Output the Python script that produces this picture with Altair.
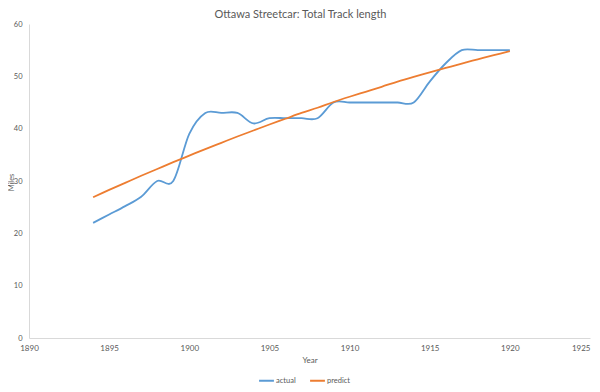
import altair as alt
import pandas as pd

years = list(range(1894, 1921))
actual = [22, 23.6, 25.2, 27, 30, 30, 39, 43, 43, 43, 41, 42, 42, 42, 42,
          45, 45, 45, 45, 45, 45, 49, 52.5, 55, 55, 55, 55]
predict = [26.9, 28.3, 29.65, 31.0, 32.3, 33.6, 34.85, 36.1, 37.3, 38.5, 39.65,
           40.8, 41.9, 43.0, 44.0, 45.1, 46.1, 47.05, 48.0, 49.0, 49.9, 50.75,
           51.6, 52.45, 53.25, 54.05, 54.8]
series_names = ["actual", "predict"]
series_colors = ["#5B9BD5", "#ED7D31"]
x_ticks = [1890, 1895, 1900, 1905, 1910, 1915, 1920, 1925]
y_ticks = [0, 10, 20, 30, 40, 50, 60]

df = pd.DataFrame({
    "Year": years * 2,
    "Miles": actual + predict,
    "series": [series_names[0]] * len(years) + [series_names[1]] * len(years),
})

FONT = "Lato"
GRAY = "#595959"

chart = alt.Chart(df).mark_line(interpolate="cardinal", strokeWidth=1.8).encode(
    x=alt.X("Year:Q",
            scale=alt.Scale(domain=[1890, 1925], nice=False, zero=False),
            axis=alt.Axis(values=x_ticks, format="d", ticks=False, grid=False,
                          labelFlush=False,
                          labelAlign={"expr": "datum.value === 1925 ? 'right' : 'center'"},
                          domainColor="#d9d9d9", labelColor=GRAY, labelFontSize=8,
                          labelFont=FONT, labelPadding=6, title="Year",
                          titleFont=FONT, titleFontSize=8, titleColor=GRAY,
                          titleFontWeight="normal", titleX=280.5, titleY=22,
                          titleBaseline="middle")),
    y=alt.Y("Miles:Q",
            scale=alt.Scale(domain=[0, 60], nice=False),
            axis=alt.Axis(values=y_ticks, ticks=False, grid=False,
                          domainColor="#d9d9d9", labelColor=GRAY, labelFontSize=7.5,
                          labelFont=FONT, labelPadding=7, title="Miles",
                          titleFont=FONT, titleFontSize=7.5, titleColor=GRAY,
                          titleFontWeight="normal", titleX=-18, titleY=158,
                          titleAngle=-90, titleAlign="center",
                          titleBaseline="middle")),
    color=alt.Color("series:N",
                    scale=alt.Scale(domain=series_names, range=series_colors),
                    legend=alt.Legend(title=None, orient="none", legendX=229,
                                      legendY=348, direction="horizontal",
                                      symbolType="stroke", symbolSize=220,
                                      symbolStrokeWidth=2, labelFont=FONT,
                                      labelFontSize=7.5, labelColor=GRAY,
                                      labelOffset=1, columnPadding=10)),
).properties(
    width=561,
    height=314,
    title=alt.TitleParams("Ottawa Streetcar: Total Track length", font=FONT,
                          fontSize=11, fontWeight="normal", color=GRAY,
                          anchor="middle", dx=-9, offset=6, dy=6),
    autosize=alt.AutoSizeParams(type="none"),
    padding={"left": 21, "top": 16, "right": 2, "bottom": 46},
).configure_view(stroke=None)

chart.save("out.html", embed_options={"renderer": "svg", "actions": False})
